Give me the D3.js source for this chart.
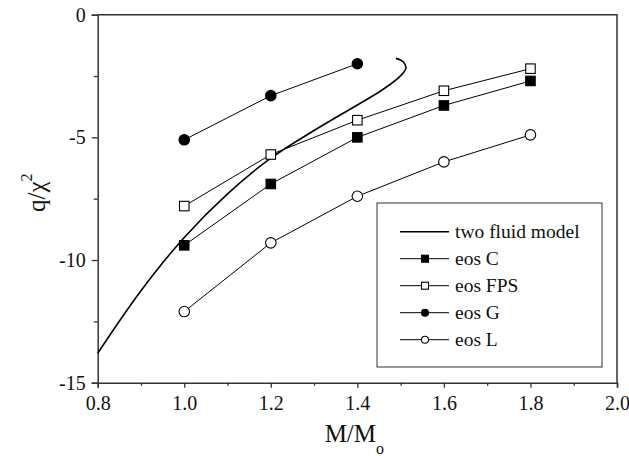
<!DOCTYPE html>
<html lang="en">
<head>
    <meta charset="UTF-8">
    <title>q/chi^2 vs M/Mo</title>
    <script src="https://cdn.jsdelivr.net/npm/d3@7"></script>
    <style>
        body { margin: 0; background: #fff; }
        svg text { font-family: "Liberation Serif", "Times New Roman", serif; fill: #111; }
    </style>
</head>
<body>
    <svg width="629" height="456"></svg>
    <script>
        // masses for the eos sequences
        const masses = [1.0, 1.2, 1.4, 1.6, 1.8];
        const eosC   = [-9.4, -6.9, -5.0, -3.7, -2.7];
        const eosFPS = [-7.8, -5.7, -4.3, -3.1, -2.2];
        const eosG   = [-5.1, -3.3, -2.0];
        const eosL   = [-12.1, -9.3, -7.4, -6.0, -4.9];

        // two fluid model curve
        const fluidM = [0.8, 0.9, 1.0, 1.1, 1.2, 1.3, 1.4, 1.45, 1.49, 1.512, 1.506, 1.489];
        const fluidQ = [-13.8, -11.25, -9.08, -7.3, -5.85, -4.72, -3.68, -3.15, -2.65, -2.2, -1.92, -1.78];

        const xTicks = [0.8, 1.0, 1.2, 1.4, 1.6, 1.8, 2.0];
        const yTicks = [0, -5, -10, -15];

        const margin = {left: 97.7, right: 12, top: 14.7, bottom: 73.3};
        const width = 629, height = 456;
        const svg = d3.select("svg");

        const x = d3.scaleLinear().domain([0.8, 2.0]).range([margin.left, width - margin.right]);
        const y = d3.scaleLinear().domain([-15, 0]).range([height - margin.bottom, margin.top]);

        const axisColor = "#333";
        const serif = "Liberation Serif, Times New Roman, serif";

        // minor ticks
        const xMinor = [0.9, 1.1, 1.3, 1.5, 1.7, 1.9];
        const yMinor = [-2.5, -7.5, -12.5];

        svg.append("g")
            .attr("transform", `translate(0,${y(-15)})`)
            .call(d3.axisBottom(x).tickValues(xTicks).tickFormat(d3.format(".1f")).tickSize(5).tickPadding(8));
        svg.append("g")
            .attr("transform", `translate(0,${y(-15)})`)
            .call(d3.axisBottom(x).tickValues(xMinor).tickFormat("").tickSize(3))
            .select(".domain").remove();

        svg.append("g")
            .attr("transform", `translate(${x(0.8)},0)`)
            .call(d3.axisLeft(y).tickValues(yTicks).tickFormat(d => String(d)).tickSize(6).tickPadding(6));
        svg.append("g")
            .attr("transform", `translate(${x(0.8)},0)`)
            .call(d3.axisLeft(y).tickValues(yMinor).tickFormat("").tickSize(4))
            .select(".domain").remove();

        svg.selectAll("g").attr("font-family", serif);
        svg.selectAll(".tick line").attr("stroke", axisColor).attr("stroke-width", 1.3);
        svg.selectAll(".domain").attr("stroke", axisColor).attr("stroke-width", 1.5);
        svg.selectAll(".tick text").attr("font-size", 20).attr("fill", "#111");

        // top and right frame
        svg.append("path")
            .attr("d", `M${x(0.8)},${y(0)}H${x(2.0)}V${y(-15)}`)
            .attr("fill", "none").attr("stroke", axisColor).attr("stroke-width", 1.5);

        // axis titles
        const xt = svg.append("text")
            .attr("x", x(1.4) - 3).attr("y", 442)
            .attr("text-anchor", "middle").attr("font-size", 25);
        xt.append("tspan").text("M/M");
        xt.append("tspan").attr("font-size", 16).attr("dy", 12).text("o");

        const yt = svg.append("text")
            .attr("transform", `translate(45,${y(-7.5) - 6}) rotate(-90)`)
            .attr("text-anchor", "middle").attr("font-size", 25);
        yt.append("tspan").text("q/χ");
        yt.append("tspan").attr("font-size", 16).attr("dy", -13).text("2");

        // two fluid model curve
        const fluid = fluidM.map((m, i) => [m, fluidQ[i]]);
        svg.append("path")
            .datum(fluid)
            .attr("fill", "none").attr("stroke", "#000").attr("stroke-width", 1.6)
            .attr("d", d3.line().x(d => x(d[0])).y(d => y(d[1])).curve(d3.curveCatmullRom.alpha(0.5)));

        const series = [
            {name: "eos C",   values: eosC,   shape: "square", filled: true},
            {name: "eos FPS", values: eosFPS, shape: "square", filled: false},
            {name: "eos G",   values: eosG,   shape: "circle", filled: true},
            {name: "eos L",   values: eosL,   shape: "circle", filled: false}
        ];

        function drawMarker(g, cx, cy, shape, filled, size) {
            if (shape === "square") {
                g.append("rect")
                    .attr("x", cx - size / 2).attr("y", cy - size / 2)
                    .attr("width", size).attr("height", size)
                    .attr("fill", filled ? "#000" : "#fff")
                    .attr("stroke", "#000").attr("stroke-width", 1.1);
            } else {
                g.append("circle")
                    .attr("cx", cx).attr("cy", cy).attr("r", size / 2)
                    .attr("fill", filled ? "#000" : "#fff")
                    .attr("stroke", "#000").attr("stroke-width", 1.1);
            }
        }

        const line = d3.line().x(d => x(d[0])).y(d => y(d[1]));
        series.forEach(s => {
            const pts = s.values.map((v, i) => [masses[i], v]);
            svg.append("path")
                .datum(pts)
                .attr("fill", "none").attr("stroke", "#000").attr("stroke-width", 1)
                .attr("d", line);
            const g = svg.append("g");
            pts.forEach(p => drawMarker(g, x(p[0]), y(p[1]), s.shape, s.filled, s.shape === "square" ? 9.5 : 10.5));
        });

        // legend
        const lg = svg.append("g");
        lg.append("rect")
            .attr("x", 377).attr("y", 203).attr("width", 225).attr("height", 164)
            .attr("fill", "#fff").attr("stroke", axisColor).attr("stroke-width", 1);
        const legendItems = [{name: "two fluid model", shape: null}].concat(series);
        legendItems.forEach((s, i) => {
            const ly = 231.7 + i * 27;
            lg.append("line")
                .attr("x1", 400).attr("x2", 449).attr("y1", ly).attr("y2", ly)
                .attr("stroke", "#000").attr("stroke-width", s.shape ? 1 : 1.6);
            if (s.shape) drawMarker(lg, 425, ly, s.shape, s.filled, 7);
            lg.append("text")
                .attr("x", 455).attr("y", ly + 6.5)
                .attr("font-size", 19.5).text(s.name);
        });
    </script>
</body>
</html>
